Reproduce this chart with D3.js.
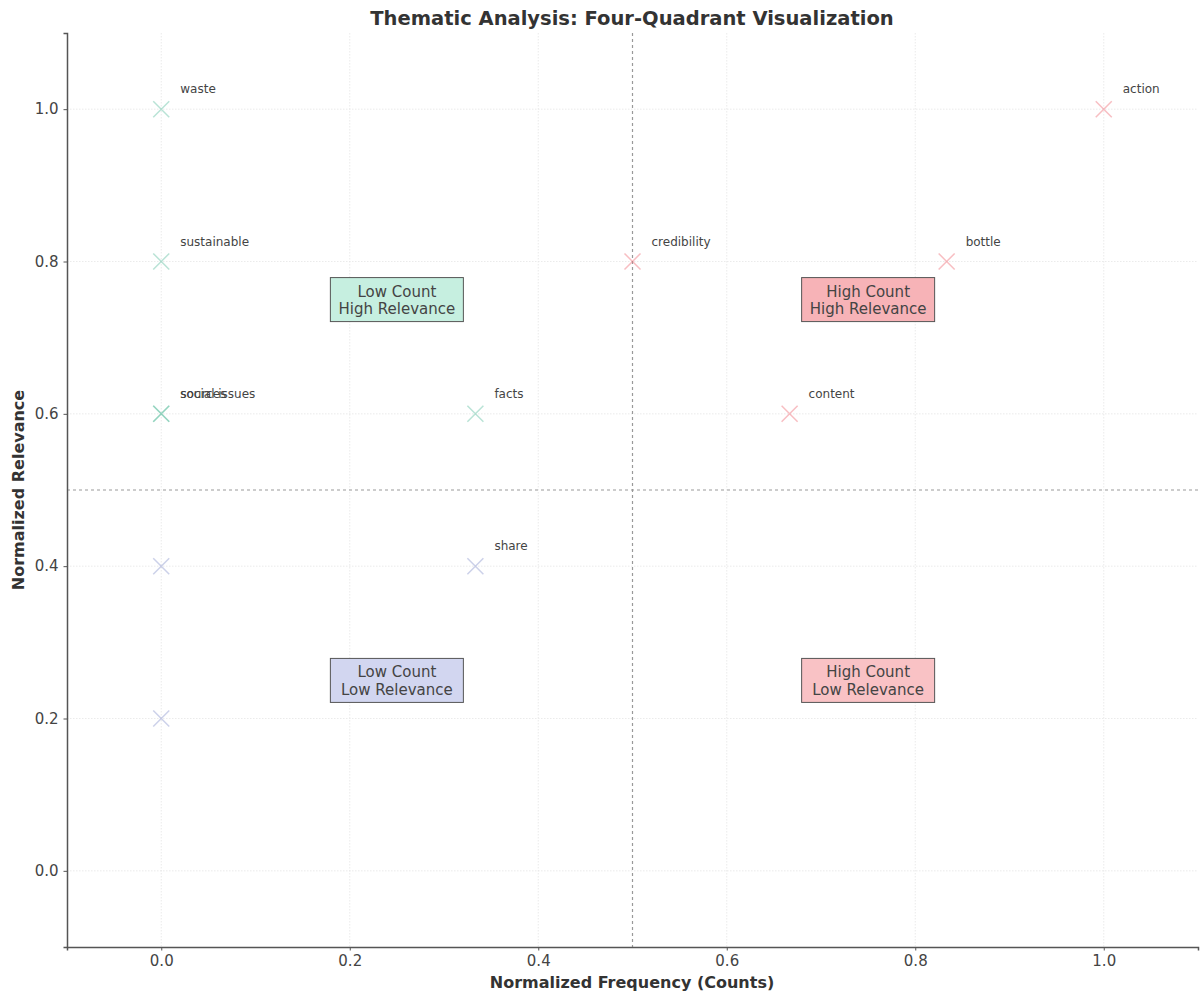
<!DOCTYPE html>
<html><head><meta charset="utf-8">
<script src="https://cdn.jsdelivr.net/npm/d3@7"></script>
<style>body{margin:0;background:#fff;font-family:"DejaVu Sans",sans-serif;}</style>
</head><body><svg id="c" width="1200" height="993"></svg>
<script>
const themes = ["waste","sustainable","social issues","sources","facts","credibility","bottle","action","content","share","",""];
const freq =   [0, 0, 0, 0, 0.3333, 0.5, 0.8333, 1.0, 0.6667, 0.3333, 0, 0];
const relev =  [1.0, 0.8, 0.6, 0.6, 0.6, 0.8, 0.8, 1.0, 0.6, 0.4, 0.4, 0.2];
const quadrant=["LH","LH","LH","LH","LH","HH","HH","HH","HH","LL","LL","LL"];
const ticks = [0.0, 0.2, 0.4, 0.6, 0.8, 1.0];
const boxLabels = [["Low Count","High Relevance"],["High Count","High Relevance"],["Low Count","Low Relevance"],["High Count","Low Relevance"]];
const boxX = [0.25, 0.75, 0.25, 0.75];
const boxY = [0.75, 0.75, 0.25, 0.25];
const boxQ = ["LH","HH","LL","HL"];

const markerColor = {LH:"#66c2a5", HH:"#f0707a", LL:"#8f9ad0", HL:"#f0707a"};
const boxFill = {LH:"#c6efe0", HH:"#f7b3b7", LL:"#d2d6f0", HL:"#f9c2c5"};

const svg = d3.select("#c");
const m = {l:67, r:1198, t:33, b:947};
const x = d3.scaleLinear().domain([-0.1,1.1]).range([m.l,m.r]);
const y = d3.scaleLinear().domain([-0.1,1.1]).range([m.b,m.t]);

// grid
const g = svg.append("g");
g.selectAll(".gx").data(ticks).join("line").attr("x1",d=>x(d)).attr("x2",d=>x(d)).attr("y1",m.t).attr("y2",m.b)
 .attr("stroke","#e6e6e6").attr("stroke-width",0.8).attr("stroke-dasharray","1.5,1.5");
g.selectAll(".gy").data(ticks).join("line").attr("y1",d=>y(d)).attr("y2",d=>y(d)).attr("x1",m.l).attr("x2",m.r)
 .attr("stroke","#e6e6e6").attr("stroke-width",0.8).attr("stroke-dasharray","1.5,1.5");

// dashed quadrant lines
svg.append("line").attr("x1",x(0.5)).attr("x2",x(0.5)).attr("y1",m.t).attr("y2",m.b)
 .attr("stroke","#999").attr("stroke-width",1.2).attr("stroke-dasharray","3,3");
svg.append("line").attr("y1",y(0.5)).attr("y2",y(0.5)).attr("x1",m.l).attr("x2",m.r)
 .attr("stroke","#999").attr("stroke-width",1.2).attr("stroke-dasharray","3,3");

// axes
const xa = svg.append("g").attr("transform",`translate(0,${m.b})`)
 .call(d3.axisBottom(x).tickValues(ticks).tickFormat(d3.format(".1f")).tickSize(3.5).tickPadding(5));
const ya = svg.append("g").attr("transform",`translate(${m.l},0)`)
 .call(d3.axisLeft(y).tickValues(ticks).tickFormat(d3.format(".1f")).tickSize(3.5).tickPadding(5));
[xa,ya].forEach(a=>{
  a.select(".domain").attr("stroke","#555").attr("stroke-width",1.5);
  a.selectAll(".tick line").attr("stroke","#555");
  a.selectAll(".tick text").attr("fill","#444").attr("font-size",15).attr("font-family","DejaVu Sans");
});

// points
const data = themes.map((t,i)=>({t, f:freq[i], r:relev[i], q:quadrant[i]}));
const s = 8;
const pts = svg.append("g").selectAll("g").data(data).join("g")
 .attr("transform",d=>`translate(${x(d.f)},${y(d.r)})`);
pts.append("path").attr("d",`M${-s},${-s}L${s},${s}M${-s},${s}L${s},${-s}`)
 .attr("stroke",d=>markerColor[d.q]).attr("stroke-width",1.5).attr("opacity",0.45);
pts.append("text").text(d=>d.t).attr("x",19).attr("y",-16)
 .attr("font-size",12).attr("fill","#444").attr("font-family","DejaVu Sans");

// boxes
const bw = 133, bh = 44;
boxLabels.forEach((lab,i)=>{
  const cx = x(boxX[i]), cy = y(boxY[i]);
  svg.append("rect").attr("x",cx-bw/2).attr("y",cy-bh/2).attr("width",bw).attr("height",bh)
   .attr("fill",boxFill[boxQ[i]]).attr("stroke","#555").attr("stroke-width",1);
  lab.forEach((l,j)=>{
    svg.append("text").text(l).attr("x",cx).attr("y",cy + (j===0?-3:14.5))
     .attr("text-anchor","middle").attr("font-size",15).attr("fill","#444").attr("font-family","DejaVu Sans");
  });
});

// titles
svg.append("text").text("Thematic Analysis: Four-Quadrant Visualization").attr("x",632).attr("y",25)
 .attr("text-anchor","middle").attr("font-weight","bold").attr("font-size",19.5).attr("fill","#333");
svg.append("text").text("Normalized Frequency (Counts)").attr("x",632).attr("y",988)
 .attr("text-anchor","middle").attr("font-weight","bold").attr("font-size",16).attr("fill","#333");
svg.append("text").text("Normalized Relevance").attr("transform",`translate(24,${(m.t+m.b)/2}) rotate(-90)`)
 .attr("text-anchor","middle").attr("font-weight","bold").attr("font-size",16).attr("fill","#333");
</script></body></html>
